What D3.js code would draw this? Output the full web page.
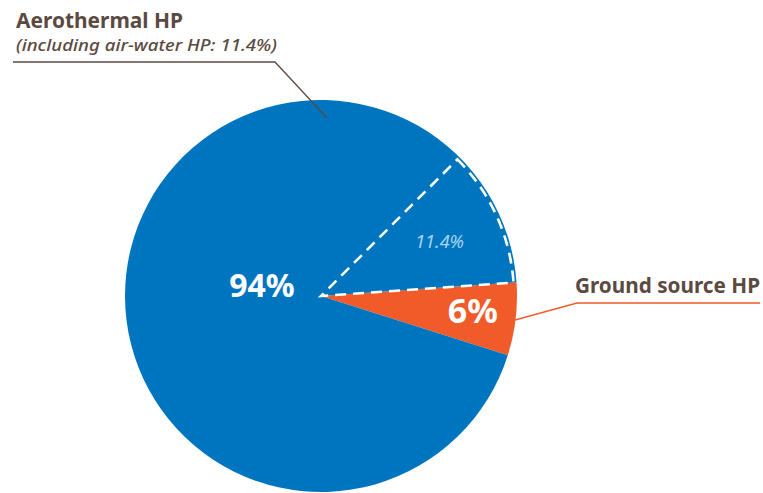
<!DOCTYPE html>
<html><head><meta charset="utf-8">
<script src="https://cdn.jsdelivr.net/npm/d3@7"></script>
<style>body{margin:0;background:#fff}svg{display:block}</style>
</head><body>
<svg id="c" width="763" height="493"></svg>
<script>
const categories = ["Ground source HP", "Aerothermal HP"];
const values = [6, 94];
const subCategory = "air-water HP";
const subValue = 11.4;
const valueLabels = ["6%", "94%"];
const colors = ["#f15a29", "#0075bf"];

const W = 763, H = 493, cx = 321, cy = 296, R = 196;
const brown = "#5b4a42";
const font = "'Noto Sans', 'Open Sans', sans-serif";
const a0 = 86 * Math.PI / 180;
const total = d3.sum(values);

const svg = d3.select("#c");
const g = svg.append("g").attr("transform", `translate(${cx},${cy})`);

const pie = d3.pie().sort(null).startAngle(a0).endAngle(a0 + 2 * Math.PI);
const arcs = pie(values);
const arc = d3.arc().innerRadius(0).outerRadius(R);

g.selectAll("path.slice").data(arcs).join("path")
  .attr("class", "slice")
  .attr("d", arc)
  .attr("fill", (d, i) => colors[i]);

// dashed sub-wedge (air-water HP), adjacent to the ground-source slice
const subSpan = subValue / total * 2 * Math.PI;
const subArc = { startAngle: a0 - subSpan, endAngle: a0 };
g.append("path")
  .attr("d", d3.arc().innerRadius(0).outerRadius(R - 3)(subArc))
  .attr("fill", "none")
  .attr("stroke", "#fff")
  .attr("stroke-width", 2.6)
  .attr("stroke-dasharray", "11,7");

// sub label
const subC = d3.arc().innerRadius(0).outerRadius(R * 1.33).centroid(subArc);
g.append("text")
  .attr("x", subC[0]).attr("y", subC[1] + 6)
  .attr("text-anchor", "middle")
  .attr("font-family", font).attr("font-style", "italic")
  .attr("font-size", 18).attr("fill", "#a9d5f2")
  .text(subValue.toFixed(1) + "%");

// value labels
g.append("text")
  .attr("x", -59).attr("y", 1)
  .attr("text-anchor", "middle")
  .attr("font-family", font).attr("font-weight", "bold")
  .attr("font-size", 32).attr("fill", "#fff")
  .text(valueLabels[1]);

const orC = d3.arc().innerRadius(0).outerRadius(R * 1.56).centroid(arcs[0]);
g.append("text")
  .attr("x", orC[0]).attr("y", 27)
  .attr("text-anchor", "middle")
  .attr("font-family", font).attr("font-weight", "bold")
  .attr("font-size", 34).attr("fill", "#fff")
  .text(valueLabels[0]);

// leader lines
svg.append("polyline")
  .attr("points", [[13, 62], [275, 62], [327, 118]].map(p => p.join(",")).join(" "))
  .attr("fill", "none").attr("stroke", brown).attr("stroke-width", 1.3);

svg.append("polyline")
  .attr("points", [[515, 320], [577, 303], [760, 303]].map(p => p.join(",")).join(" "))
  .attr("fill", "none").attr("stroke", colors[0]).attr("stroke-width", 1.3);

// category labels
svg.append("text")
  .attr("x", 16).attr("y", 28)
  .attr("font-family", font).attr("font-weight", "bold")
  .attr("font-size", 22).attr("fill", brown)
  .attr("textLength", 167).attr("lengthAdjust", "spacingAndGlyphs")
  .text(categories[1]);

svg.append("text")
  .attr("x", 16).attr("y", 51)
  .attr("font-family", font).attr("font-style", "italic").attr("font-weight", 500)
  .attr("font-size", 16.5).attr("fill", brown)
  .attr("textLength", 261).attr("lengthAdjust", "spacingAndGlyphs")
  .text(`(including ${subCategory}: ${subValue.toFixed(1)}%)`);

svg.append("text")
  .attr("x", 760).attr("y", 293)
  .attr("text-anchor", "end")
  .attr("font-family", font).attr("font-weight", "bold")
  .attr("font-size", 21).attr("fill", brown)
  .attr("textLength", 185).attr("lengthAdjust", "spacingAndGlyphs")
  .text(categories[0]);
</script>
</body></html>
